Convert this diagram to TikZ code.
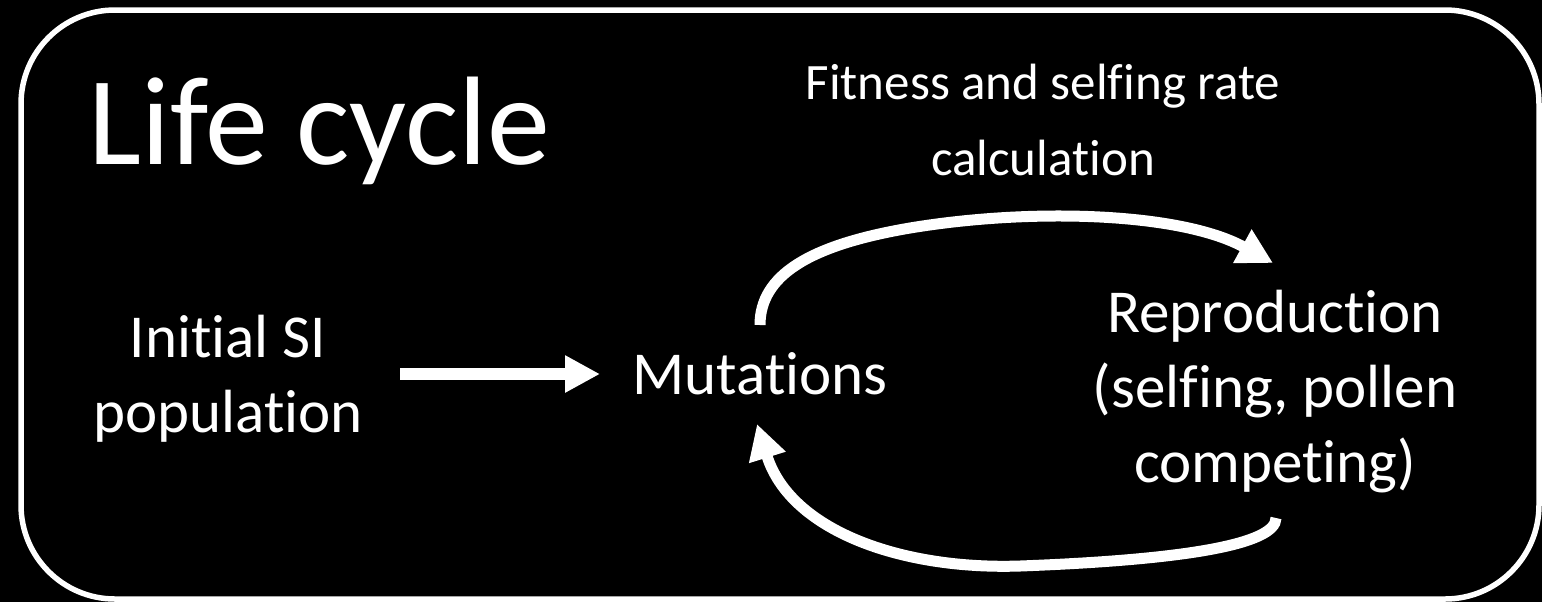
\documentclass[tikz,border=0pt]{standalone}
\usepackage{fontspec}
\setmainfont{Carlito}[Ligatures=NoCommon]
\usetikzlibrary{arrows.meta}
\begin{document}
\begin{tikzpicture}[x=0.5pt,y=-0.5pt,
  every node/.style={text=white, inner sep=0pt, align=center},
  bodytext/.style={font=\fontsize{30.5pt}{37.5pt}\selectfont},
  flow/.style={draw=white, line width=6pt, -{Triangle[length=17.5pt,width=17.5pt]}},
  cyclearrow/.style={draw=white, line width=5.5pt, -{Triangle[length=17.5pt,width=18pt]}},
]
% background and frame
\fill[black] (0,0) rectangle (1542,602);
\useasboundingbox (0,0) rectangle (1542,602);
\draw[white, line width=2.75pt, rounded corners=47pt] (21,10) rectangle (1539,599);

% texts
\node[anchor=base west, font=\fontsize{63pt}{75pt}\selectfont] (title) at (88,164) {Life cycle};
\node[bodytext, anchor=base] (init) at (228,432) {Initial SI\\population};
\node[bodytext, anchor=base] (mut) at (760,394) {Mutations};
\node[bodytext, anchor=base] (repro) at (1275,482) {Reproduction\\(selfing, pollen\\competing)};
\node[font=\fontsize{25.5pt}{38pt}\selectfont, anchor=base] (fit) at (1043,175) {Fitness and selfing rate\\calculation};

% connector end points
\coordinate (initOut) at (400,374);
\coordinate (mutIn) at (600,374);
\coordinate (mutUp) at (760,325);
\coordinate (reproIn) at (1273,263);
\coordinate (reproOut) at (1276,518);
\coordinate (mutDown) at (757,424);

% arrows
\draw[flow] (initOut) -- (mutIn);
\draw[cyclearrow] (mutUp) .. controls (760,275) and (810,245) .. (910,228)
  .. controls (1030,208) and (1180,212) .. (reproIn);
\draw[cyclearrow] (reproOut) .. controls (1276,545) and (1180,560) .. (1020,566)
  .. controls (900,570) and (790,530) .. (mutDown);
\end{tikzpicture}
\end{document}
